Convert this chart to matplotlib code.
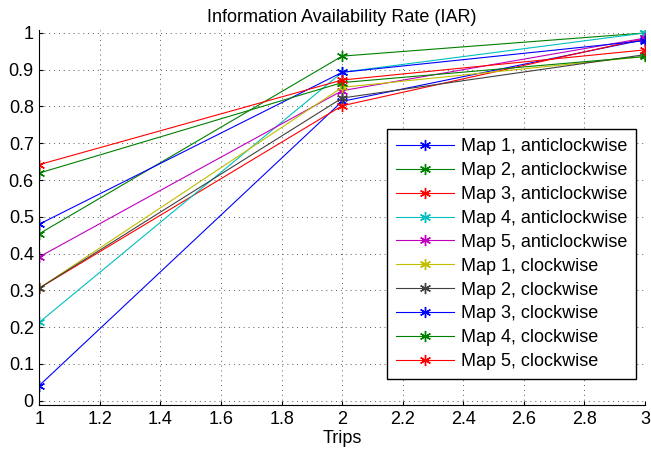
import numpy as np
import matplotlib
matplotlib.use("Agg")
import matplotlib.pyplot as plt

plt.rcParams['font.family'] = ['Liberation Sans', 'DejaVu Sans']

trips = [1, 2, 3]

labels = ["Map 1, anticlockwise", "Map 2, anticlockwise", "Map 3, anticlockwise",
          "Map 4, anticlockwise", "Map 5, anticlockwise",
          "Map 1, clockwise", "Map 2, clockwise", "Map 3, clockwise",
          "Map 4, clockwise", "Map 5, clockwise"]

map1_anti = [0.041, 0.814, 0.982]
map2_anti = [0.454, 0.937, 1.000]
map3_anti = [0.306, 0.802, 0.985]
map4_anti = [0.213, 0.893, 1.000]
map5_anti = [0.391, 0.843, 0.986]
map1_clock = [0.306, 0.852, 0.936]
map2_clock = [0.306, 0.823, 0.941]
map3_clock = [0.480, 0.893, 0.979]
map4_clock = [0.619, 0.865, 0.936]
map5_clock = [0.642, 0.872, 0.954]

series = [map1_anti, map2_anti, map3_anti, map4_anti, map5_anti,
          map1_clock, map2_clock, map3_clock, map4_clock, map5_clock]

# old matlab colour order
colors = ['#0000ff', '#008000', '#ff0000', '#00bfbf', '#bf00bf',
          '#bfbf00', '#404040', '#0000ff', '#008000', '#ff0000']

xticks = [1, 1.2, 1.4, 1.6, 1.8, 2, 2.2, 2.4, 2.6, 2.8, 3]
xticklabels = ["1", "1.2", "1.4", "1.6", "1.8", "2", "2.2", "2.4", "2.6", "2.8", "3"]
yticks = [0, 0.1, 0.2, 0.3, 0.4, 0.5, 0.6, 0.7, 0.8, 0.9, 1]
yticklabels = ["0", "0.1", "0.2", "0.3", "0.4", "0.5", "0.6", "0.7", "0.8", "0.9", "1"]

fig = plt.figure(figsize=(6.51, 4.5), dpi=100)
ax = fig.add_axes([0.0604, 0.1, 0.9304, 0.8333])

for y, c, lab in zip(series, colors, labels):
    ax.plot(trips, y, color=c, lw=0.8, marker=(6, 2, 0), markersize=8,
            markeredgewidth=1.0, label=lab)

ax.set_xlim(1, 3)
ax.set_ylim(-0.012, 1.008)
ax.set_xticks(xticks)
ax.set_xticklabels(xticklabels)
ax.set_yticks(yticks)
ax.set_yticklabels(yticklabels)
ax.tick_params(direction='in', length=3, labelsize=13, pad=4)
ax.spines['top'].set_visible(False)
ax.spines['right'].set_visible(False)
ax.grid(True, linestyle=(0, (1, 4)), color='0.35', lw=0.7)
ax.set_axisbelow(True)

ax.set_title("Information Availability Rate (IAR)", fontsize=13, pad=6)
ax.set_xlabel("Trips", fontsize=13, labelpad=2)

leg = ax.legend(loc='lower right', bbox_to_anchor=(0.985, 0.069), borderaxespad=0,
                fontsize=13, fancybox=False, framealpha=1, edgecolor='black',
                handlelength=3.2, handletextpad=0.35, labelspacing=0.38,
                borderpad=0.5)
leg.get_frame().set_linewidth(1.0)

fig.savefig("out.png", dpi=100)
